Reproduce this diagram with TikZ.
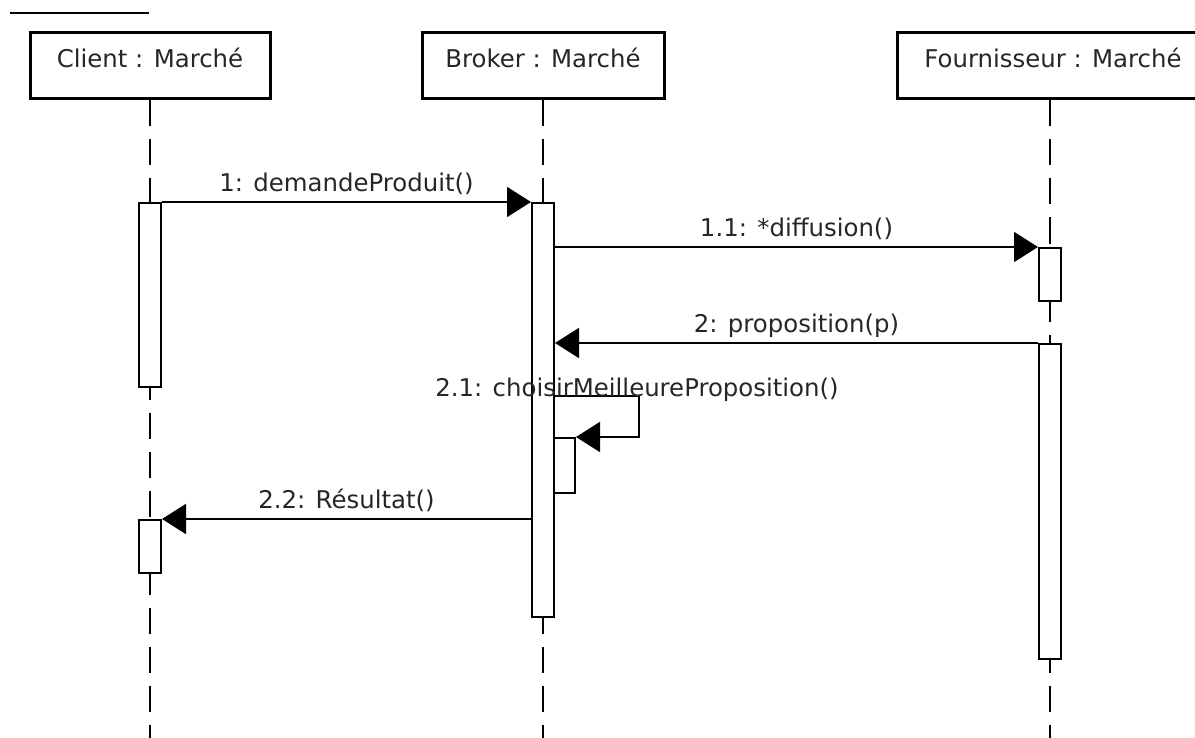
\documentclass[tikz,border=0pt]{standalone}
\usepackage{fontspec}
\setmainfont{DejaVu Sans}
\usetikzlibrary{positioning}
\usetikzlibrary{arrows.meta}

\begin{document}
\begin{tikzpicture}[
      x=0.5pt, y=-0.5pt,
      font=\fontsize{12.2}{14}\selectfont,
      text=black!85,
      object/.style={draw=black, line width=1.5pt, inner sep=0pt, minimum width=120pt, text height=17.5pt, text depth=15.5pt},
      lifeline/.style={line width=1pt, dash pattern=on 13pt off 6.5pt},
      activation/.style={draw=black, fill=white, line width=1pt, inner sep=0pt, minimum width=11pt, anchor=north},
      msg/.style={line width=0.9pt, -{Triangle[length=12pt, width=15pt]}},
      lbl/.style={above, inner sep=0pt, text depth=0pt, yshift=5pt}
    ]
    \useasboundingbox (0,0) rectangle (1195,738);
    \draw[line width=1.25pt] (10,13) -- (149,13);

    % objects and lifelines
    \node(client)[object] at (150,66) {Client : Marché};
    \node(broker)[object, minimum width=121pt] at (543,66) {Broker : Marché};
    \node(fourn)[object, minimum width=156pt, xshift=1.5pt] at (1050,66) {Fournisseur : Marché};
    \coordinate(clientEnd) at (150,738);
    \coordinate(brokerEnd) at (543,738);
    \coordinate(fournEnd) at (1050,738);
    \draw[lifeline] (client) -- (clientEnd);
    \draw[lifeline] (broker) -- (brokerEnd);
    \draw[lifeline] (fournEnd |- fourn.south) -- (fournEnd);

    % activations
    \node(cA1)[activation, minimum height=92pt] at (150,202) {};
    \node(cA2)[activation, minimum height=26.5pt] at (150,519) {};
    \node(bA1)[activation, minimum height=207pt] at (543,202) {};
    \node(bA2)[activation, minimum width=10.5pt, minimum height=27.5pt] at (564.5,437) {};
    \node(fA1)[activation, minimum height=26.5pt] at (1050,247) {};
    \node(fA2)[activation, minimum height=157.5pt] at (1050,343) {};

    % messages
    \draw[msg] (cA1.north east) -- (bA1.north west) node[lbl, midway] {1: demandeProduit()};
    \draw[msg] (bA1.east |- fA1.north) -- (fA1.north west) node[lbl, midway] {1.1: *diffusion()};
    \draw[msg] (fA2.north west) -- (bA1.east |- fA2.north) node[lbl, midway] {2: proposition(p)};
    \coordinate(loop) at (639,396);
    \draw[msg] (bA1.east |- loop) -- (loop) |- (bA2.north east);
    \node(loopLbl)[anchor=base, xshift=-1pt] at (loop) {2.1: choisirMeilleureProposition()};
    \draw[msg] (bA1.west |- cA2.north) -- (cA2.north east) node[lbl, midway] {2.2: Résultat()};
\end{tikzpicture}
\end{document}
